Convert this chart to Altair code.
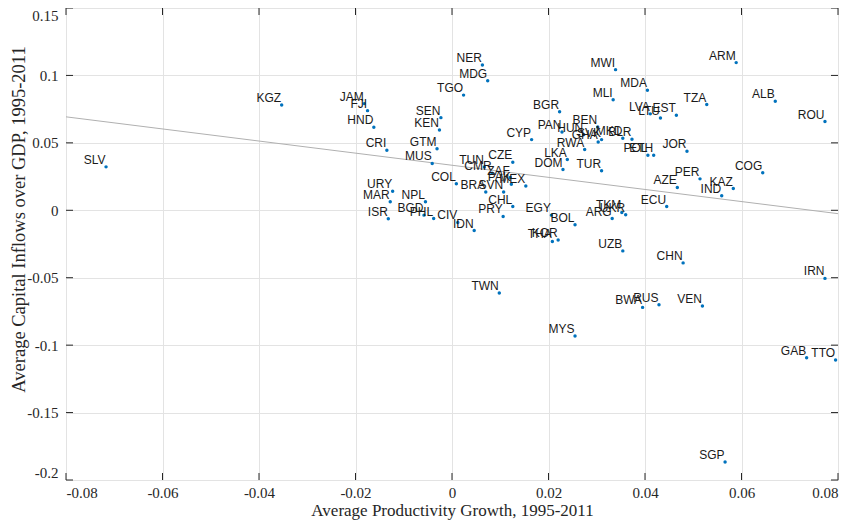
import altair as alt
import pandas as pd

countries = ["SLV", "KGZ", "JAM", "FJI", "HND", "CRI", "SEN", "KEN", "GTM", "MUS",
             "TGO", "NER", "MDG", "MWI", "MDA", "MLI", "ARM", "TZA", "ALB", "ROU",
             "LVA", "LTU", "EST", "BGR", "CYP", "PAN", "HUN", "BEN", "GHA", "SVK",
             "MKD", "BLR", "RWA", "POL", "ETH", "JOR", "LKA", "DOM", "TUR", "CZE",
             "TUN", "CMR", "ZAF", "PAK", "MEX", "COL", "BRA", "SVN", "CHL", "PRY",
             "IDN", "CIV", "PHL", "BGD", "NPL", "URY", "MAR", "ISR", "EGY", "BOL",
             "THA", "KOR", "ARG", "TKM", "UKR", "UZB", "ECU", "AZE", "PER", "IND",
             "KAZ", "COG", "CHN", "TWN", "MYS", "BWA", "RUS", "VEN", "IRN", "GAB",
             "TTO", "SGP"]
growth = [-0.0717, -0.0353, -0.0182, -0.0175, -0.0162, -0.0135, -0.0023, -0.0026, -0.0031, -0.0041,
          0.0024, 0.0063, 0.0074, 0.0339, 0.0405, 0.0334, 0.0589, 0.0528, 0.0670, 0.0773,
          0.0411, 0.0432, 0.0465, 0.0223, 0.0165, 0.0228, 0.0273, 0.0302, 0.0303, 0.0310,
          0.0354, 0.0373, 0.0275, 0.0406, 0.0418, 0.0487, 0.0239, 0.0230, 0.0310, 0.0126,
          0.0067, 0.0083, 0.0121, 0.0123, 0.0153, 0.0009, 0.0070, 0.0107, 0.0126, 0.0106,
          0.0046, 0.0012, -0.0038, -0.0058, -0.0055, -0.0123, -0.0128, -0.0132, 0.0206, 0.0255,
          0.0208, 0.0220, 0.0332, 0.0352, 0.0360, 0.0354, 0.0445, 0.0467, 0.0514, 0.0559,
          0.0583, 0.0644, 0.0479, 0.0098, 0.0255, 0.0395, 0.0429, 0.0519, 0.0773, 0.0735,
          0.0795, 0.0566]
inflows = [0.0322, 0.0780, 0.0791, 0.0739, 0.0616, 0.0445, 0.0687, 0.0596, 0.0456, 0.0347,
           0.0854, 0.1078, 0.0961, 0.1043, 0.0890, 0.0819, 0.1095, 0.0784, 0.0808, 0.0658,
           0.0715, 0.0685, 0.0704, 0.0730, 0.0524, 0.0581, 0.0561, 0.0617, 0.0506, 0.0524,
           0.0534, 0.0527, 0.0450, 0.0408, 0.0408, 0.0438, 0.0376, 0.0302, 0.0293, 0.0356,
           0.0321, 0.0275, 0.0243, 0.0193, 0.0180, 0.0196, 0.0136, 0.0136, 0.0028, -0.0046,
           -0.0150, -0.0090, -0.0061, -0.0036, 0.0063, 0.0141, 0.0063, -0.0063, -0.0036, -0.0107,
           -0.0231, -0.0221, -0.0061, -0.0016, -0.0033, -0.0301, 0.0028, 0.0169, 0.0233, 0.0107,
           0.0161, 0.0278, -0.0390, -0.0614, -0.0933, -0.0720, -0.0700, -0.0710, -0.0505, -0.1093,
           -0.1110, -0.1866]

x_ticks = [-0.08, -0.06, -0.04, -0.02, 0, 0.02, 0.04, 0.06, 0.08]
y_ticks = [-0.2, -0.15, -0.1, -0.05, 0, 0.05, 0.1, 0.15]
fit_x = [-0.08, 0.08]
fit_y = [0.0693, -0.0025]

W, H = 772, 472
TICK = 7
DARK = "#262626"
SERIF = "Liberation Serif"
SANS = "Liberation Sans"

df = pd.DataFrame({"country": countries, "growth": growth, "inflows": inflows})
fit_df = pd.DataFrame({"x": fit_x, "y": fit_y})
xt_df = pd.DataFrame({"v": x_ticks})
yt_df = pd.DataFrame({"v": y_ticks})

xs = alt.Scale(domain=[-0.08, 0.08], nice=False, zero=False)
ys = alt.Scale(domain=[-0.2, 0.15], nice=False, zero=False)

x_axis = alt.Axis(values=x_ticks, grid=True, gridColor="#e3e3e3", ticks=False, domain=False,
                  labelFont=SERIF, labelFontSize=15, labelColor=DARK, labelPadding=5,
                  labelExpr="'' + datum.value",
                  title="Average Productivity Growth, 1995-2011", titleFont=SERIF,
                  titleFontSize=17, titleFontWeight="normal", titleColor=DARK,
                  titleBaseline="alphabetic", titleY=35)
y_axis = alt.Axis(values=y_ticks, grid=True, gridColor="#e3e3e3", ticks=False, domain=False,
                  labelFont=SERIF, labelFontSize=15, labelColor=DARK, labelPadding=8,
                  labelFlush=True,
                  labelExpr="'' + datum.value",
                  title="Average Capital Inflows over GDP, 1995-2011", titleFont=SERIF,
                  titleFontSize=18.5, titleFontWeight="normal", titleColor=DARK,
                  titleBaseline="alphabetic", titleX=-42, titleY=211)


def X(field):
    return alt.X(field, scale=xs, axis=x_axis)


def Y(field):
    return alt.Y(field, scale=ys, axis=y_axis)


fit = alt.Chart(fit_df).mark_line(color="#b0b0b0", strokeWidth=1, clip=True).encode(
    x=X("x:Q"), y=Y("y:Q"))

pts = alt.Chart(df).mark_circle(size=12, color="#0072BD", opacity=1).encode(
    x=X("growth:Q"), y=Y("inflows:Q"))

labels = alt.Chart(df).mark_text(font=SANS, fontSize=12, color="#1a1a1a", align="right",
                                 baseline="alphabetic", dx=-0.5, dy=-3).encode(
    x=X("growth:Q"), y=Y("inflows:Q"), text="country:N")

xt_bot = alt.Chart(xt_df).mark_rule(color=DARK, strokeWidth=1).encode(
    x=X("v:Q"), y=alt.value(H), y2=alt.value(H - TICK))
xt_top = alt.Chart(xt_df).mark_rule(color=DARK, strokeWidth=1).encode(
    x=X("v:Q"), y=alt.value(0), y2=alt.value(TICK))
yt_left = alt.Chart(yt_df).mark_rule(color=DARK, strokeWidth=1).encode(
    y=Y("v:Q"), x=alt.value(0), x2=alt.value(TICK))
yt_right = alt.Chart(yt_df).mark_rule(color=DARK, strokeWidth=1).encode(
    y=Y("v:Q"), x=alt.value(W), x2=alt.value(W - TICK))

chart = alt.layer(fit, pts, labels, xt_bot, xt_top, yt_left, yt_right).properties(
    width=W, height=H,
    autosize=alt.AutoSizeParams(type="none"),
    padding={"left": 58, "top": 0, "right": 6, "bottom": 45},
).configure_view(stroke=DARK, strokeWidth=1).configure(background="white")

chart.save("out.html", embed_options={"renderer": "svg", "actions": False})
